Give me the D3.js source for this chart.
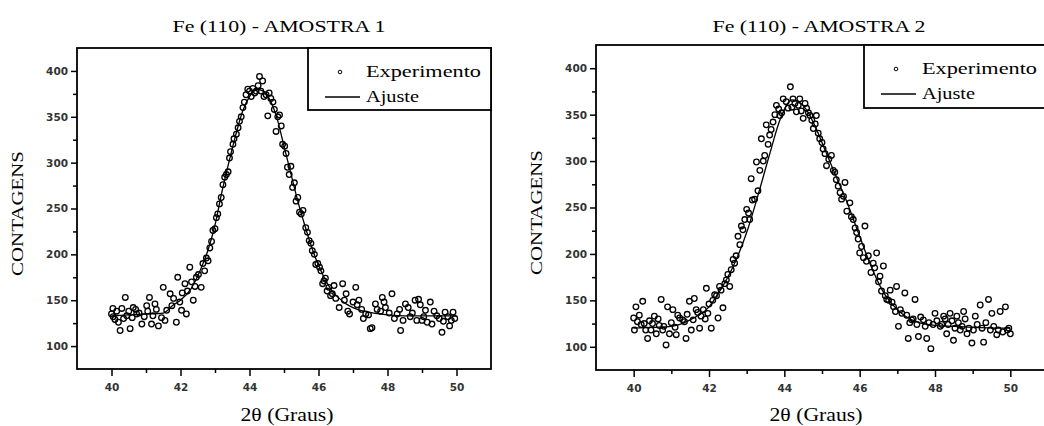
<!DOCTYPE html>
<html>
<head>
<meta charset="utf-8">
<script src="https://cdn.jsdelivr.net/npm/d3@7"></script>
<style>
  body { margin: 0; background: #fff; }
  svg { display: block; }
</style>
</head>
<body>
<div id="chart"></div>
<script>
// tick values
const xTicks = [40, 42, 44, 46, 48, 50];
const xMinor = [41, 43, 45, 47, 49];
const yTicks = [100, 150, 200, 250, 300, 350, 400];
const yMinor = [125, 175, 225, 275, 325, 375];

// amostra 1 : experimento [2theta, contagens]
const exp1 = [
  [40,135],[40.04,141],[40.1,129],[40.25,117],[40.4,153],[40.54,119],[40.44,133],[40.63,142],[40.73,135],
  [40.88,124],[41.02,144],[41.1,153],[41.16,124],[41.26,146],[41.36,122],[41.5,164],[41.55,128],[41.7,157],
  [41.88,126],[41.92,175],[42.03,139],[42.13,168],[42.17,135],[42.27,186],[42.37,150],[42.46,175],[42.6,164],
  [42.7,182],[42.8,193],[42.85,207],[42.94,226],[43.04,240],[43.13,255],[43.23,276],[43.33,287],[43.42,305],
  [43.52,320],[43.62,331],[43.71,345],[43.81,360],[43.9,374],[44.0,378],[44.1,381],[44.19,378],[44.29,394],
  [44.38,389],[44.48,374],[44.53,351],[44.62,370],[44.77,334],[44.87,352],[44.96,320],[45.1,295],[45.15,287],
  [45.25,273],[45.35,258],[45.5,244],[45.63,229],[45.73,215],[45.88,200],[45.92,189],[46.07,182],[46.16,171],
  [46.3,164],[46.4,157],[46.6,142],[46.8,157],[46.9,135],[47.08,164],[47.17,150],[47.37,135],[47.5,119],
  [47.65,146],[47.85,153],[47.94,142],[48.13,157],[48.28,135],[48.38,117],[48.52,146],[48.66,132],[48.8,150],
  [48.9,151],[49.0,128],[49.1,139],[49.24,148],[49.29,124],[49.43,133],[49.58,115],[49.67,137],[49.8,122],
  [49.9,137],
  [40.05,132],[40.15,138],[40.2,126],[40.3,141],[40.35,130],[40.5,138],[40.6,131],[40.7,140],[40.8,136],
  [40.95,132],[41.05,138],[41.2,133],[41.3,140],[41.45,131],[41.6,139],[41.75,144],[41.8,152],[41.98,148],
  [42.05,158],[42.2,160],[42.32,170],[42.42,165],[42.52,178],[42.65,190],[42.75,196],[42.9,214],[43.0,228],
  [43.08,244],[43.18,262],[43.28,284],[43.38,290],[43.45,312],[43.55,326],[43.67,338],[43.76,350],[43.85,366],
  [43.95,380],[44.05,372],[44.15,376],[44.25,384],[44.33,378],[44.42,372],[44.57,376],[44.68,366],[44.72,358],
  [44.82,350],[44.92,340],[45.02,318],[45.06,310],[45.2,296],[45.3,278],[45.4,262],[45.45,246],[45.55,248],
  [45.68,224],[45.78,212],[45.82,204],[45.98,190],[46.03,186],[46.12,168],[46.2,174],[46.25,160],[46.35,155],
  [46.45,166],[46.5,152],[46.7,168],[46.75,150],[46.85,138],[47.0,148],[47.12,145],[47.25,140],[47.3,130],
  [47.45,134],[47.55,120],[47.7,140],[47.8,138],[47.9,148],[48.05,136],[48.2,130],[48.35,140],[48.45,128],
  [48.6,142],[48.72,136],[48.85,128],[48.95,145],[49.05,132],[49.15,126],[49.35,138],[49.5,130],[49.62,127],
  [49.75,132],[49.85,128],[49.95,130]
];

// amostra 1 : ajuste
const fit1 = [
  [40,133],[40.5,134],[41,135],[41.5,136],[41.8,145],[42,150],[42.3,162],[42.6,185],[42.8,205],[43,232],
  [43.2,268],[43.4,300],[43.6,330],[43.8,356],[44,372],[44.2,380],[44.4,378],[44.6,368],[44.8,348],[45,318],
  [45.2,288],[45.4,258],[45.6,232],[45.8,208],[46,188],[46.2,172],[46.4,160],[46.6,152],[46.8,146],[47,142],
  [47.3,138],[47.6,136],[48,134],[48.5,133],[49,133],[49.5,133],[50,133]
];

// amostra 2 : experimento
const exp2 = [
  [40,131],[40.02,118],[40.06,143],[40.15,134],[40.24,149],[40.28,125],[40.37,109],[40.46,118],[40.55,133],
  [40.6,114],[40.68,123],[40.73,151],[40.77,118],[40.86,102],[40.9,143],[40.95,114],[41.04,140],[41.13,113],
  [41.17,134],[41.3,129],[41.39,109],[41.48,149],[41.53,118],[41.61,152],[41.66,140],[41.75,120],[41.79,133],
  [41.93,163],[41.97,136],[42.06,120],[42.15,156],[42.24,131],[42.32,161],[42.37,142],[42.46,172],[42.55,165],
  [42.59,183],[42.64,194],[42.72,198],[42.77,219],[42.86,230],[42.95,237],[43.0,248],[43.08,237],[43.12,281],
  [43.21,259],[43.26,299],[43.3,268],[43.39,324],[43.48,306],[43.52,339],[43.61,328],[43.7,342],[43.79,360],
  [43.88,349],[43.97,367],[44.1,357],[44.16,380],[44.23,367],[44.32,353],[44.41,367],[44.5,346],[44.59,357],
  [44.68,349],[44.77,335],[44.85,349],[44.94,324],[45.03,313],[45.12,295],[45.25,306],[45.34,288],[45.43,273],
  [45.52,259],[45.61,277],[45.74,255],[45.83,237],[45.92,223],[46.0,201],[46.14,230],[46.23,198],[46.36,190],
  [46.45,201],[46.54,176],[46.63,187],[46.72,151],[46.81,161],[46.9,143],[46.98,165],[47.03,122],[47.12,136],
  [47.2,158],[47.29,109],[47.38,129],[47.47,151],[47.56,111],[47.69,129],[47.78,109],[47.89,98],[48.0,136],
  [48.14,122],[48.23,133],[48.31,114],[48.4,136],[48.49,107],[48.58,133],[48.67,118],[48.76,138],[48.85,114],
  [48.98,104],[49.07,133],[49.2,145],[49.29,105],[49.42,151],[49.51,136],[49.64,113],[49.73,138],[49.87,143],
  [49.96,120],[50,114],
  [40.1,127],[40.2,124],[40.32,118],[40.42,128],[40.5,125],[40.65,130],[40.8,122],[41.0,126],[41.1,121],
  [41.22,131],[41.35,127],[41.42,135],[41.58,129],[41.7,137],[41.85,140],[41.9,130],[42.0,146],[42.1,150],
  [42.2,155],[42.28,165],[42.42,168],[42.5,178],[42.68,190],[42.82,210],[42.9,226],[43.05,244],[43.15,258],
  [43.35,290],[43.44,300],[43.57,318],[43.65,334],[43.75,350],[43.85,356],[43.93,352],[44.05,364],[44.2,358],
  [44.28,362],[44.37,360],[44.45,354],[44.55,362],[44.64,352],[44.73,344],[44.82,340],[44.9,330],[45.0,320],
  [45.08,308],[45.18,302],[45.3,290],[45.38,280],[45.48,266],[45.57,262],[45.66,246],[45.78,240],[45.88,228],
  [45.96,216],[46.05,208],[46.1,196],[46.18,192],[46.3,180],[46.4,185],[46.5,170],[46.58,160],[46.68,155],
  [46.77,150],[46.86,148],[46.95,138],[47.08,140],[47.25,134],[47.33,126],[47.42,130],[47.52,124],[47.62,132],
  [47.74,122],[47.84,126],[47.95,124],[48.05,128],[48.18,124],[48.27,130],[48.35,124],[48.45,128],[48.53,120],
  [48.62,126],[48.72,122],[48.8,130],[48.9,120],[49.02,118],[49.12,124],[49.25,120],[49.35,126],[49.47,118],
  [49.56,122],[49.68,118],[49.8,116],[49.92,118]
];

// amostra 2 : ajuste
const fit2 = [
  [40,120],[40.5,121],[41,122],[41.5,129],[42,143],[42.3,161],[42.6,183],[43,223],[43.3,263],[43.6,306],
  [43.9,346],[44.2,366],[44.5,360],[44.8,339],[45.1,310],[45.4,281],[45.7,252],[46,219],[46.3,187],[46.6,161],
  [47,140],[47.5,127],[48,123],[48.5,122],[49,121],[50,120]
];

const svg = d3.select("#chart").append("svg")
  .attr("width", 1044)
  .attr("height", 426);

function drawPanel(cfg) {
  const x = d3.scaleLinear().domain([39, 51]).range([cfg.left, cfg.right]);
  const y = d3.scaleLinear().domain([75, 425]).range([cfg.bottom, cfg.top]);
  const g = svg.append("g");

  // title
  g.append("text")
    .attr("x", cfg.titleX).attr("y", 32)
    .attr("text-anchor", "middle")
    .attr("textLength", 213).attr("lengthAdjust", "spacingAndGlyphs")
    .style("font-family", "'Liberation Serif', serif").style("font-size", "17px")
    .text(cfg.title);

  // axes
  const xAx = g.append("g").attr("transform", `translate(0,${cfg.bottom})`)
    .call(d3.axisBottom(x).tickValues(xTicks).tickSize(7).tickFormat(d3.format("d")));
  g.append("g").attr("transform", `translate(0,${cfg.bottom})`)
    .call(d3.axisBottom(x).tickValues(xMinor).tickSize(4).tickFormat(""));
  g.append("g").attr("transform", `translate(${cfg.left},0)`)
    .call(d3.axisLeft(y).tickValues(yTicks).tickSize(6).tickFormat(d3.format("d")));
  g.append("g").attr("transform", `translate(${cfg.left},0)`)
    .call(d3.axisLeft(y).tickValues(yMinor).tickSize(4).tickFormat(""));
  g.selectAll(".domain").remove();
  g.selectAll(".tick line").attr("stroke", "#000").attr("stroke-width", 1.5);
  g.selectAll(".tick text")
    .style("font-family", "'DejaVu Sans', sans-serif").style("font-size", "10.5px")
    .style("font-weight", "bold").attr("fill", "#333");
  xAx.selectAll(".tick text").attr("dy", "1.1em");

  // frame
  g.append("rect")
    .attr("x", cfg.left).attr("y", cfg.top)
    .attr("width", cfg.right - cfg.left).attr("height", cfg.bottom - cfg.top)
    .attr("fill", "none").attr("stroke", "#000").attr("stroke-width", 1.8);

  // fit line
  g.append("path")
    .datum(cfg.fit)
    .attr("fill", "none").attr("stroke", "#000").attr("stroke-width", 1.3)
    .attr("d", d3.line().x(d => x(d[0])).y(d => y(d[1])).curve(d3.curveMonotoneX));

  // experiment points
  g.selectAll("circle.pt")
    .data(cfg.exp)
    .join("circle")
    .attr("class", "pt")
    .attr("cx", d => x(d[0])).attr("cy", d => y(d[1]))
    .attr("r", 2.8)
    .attr("fill", "none").attr("stroke", "#000").attr("stroke-width", 1.3);

  // legend
  const lg = g.append("g");
  lg.append("rect")
    .attr("x", cfg.legX).attr("y", cfg.top)
    .attr("width", cfg.right - cfg.legX).attr("height", cfg.legH)
    .attr("fill", "#fff").attr("stroke", "#000").attr("stroke-width", 1.8);
  lg.append("circle")
    .attr("cx", cfg.legX + 32).attr("cy", cfg.top + 24).attr("r", 1.8)
    .attr("fill", "none").attr("stroke", "#000").attr("stroke-width", 1);
  lg.append("line")
    .attr("x1", cfg.legX + 17).attr("x2", cfg.legX + 52)
    .attr("y1", cfg.top + 49).attr("y2", cfg.top + 49)
    .attr("stroke", "#000").attr("stroke-width", 1.3);
  lg.append("text")
    .attr("x", cfg.legX + 58).attr("y", cfg.top + 29)
    .attr("textLength", 115).attr("lengthAdjust", "spacingAndGlyphs")
    .style("font-family", "'Liberation Serif', serif").style("font-size", "17px")
    .text("Experimento");
  lg.append("text")
    .attr("x", cfg.legX + 58).attr("y", cfg.top + 54)
    .attr("textLength", 53).attr("lengthAdjust", "spacingAndGlyphs")
    .style("font-family", "'Liberation Serif', serif").style("font-size", "17px")
    .text("Ajuste");

  // axis titles
  g.append("text")
    .attr("transform", `translate(${cfg.left - 54},${(cfg.top + cfg.bottom) / 2 + 5}) rotate(-90)`)
    .attr("text-anchor", "middle")
    .attr("textLength", 125).attr("lengthAdjust", "spacingAndGlyphs")
    .style("font-family", "'Liberation Serif', serif").style("font-size", "16px")
    .text("CONTAGENS");
  g.append("text")
    .attr("x", cfg.xLabelX).attr("y", 421)
    .attr("text-anchor", "middle")
    .attr("textLength", 93).attr("lengthAdjust", "spacingAndGlyphs")
    .style("font-family", "'Liberation Serif', serif").style("font-size", "18px")
    .text("2θ  (Graus)");
}

drawPanel({
  title: "Fe (110) - AMOSTRA 1", titleX: 279,
  left: 77, right: 491, top: 48, bottom: 369,
  legX: 308, legH: 62, xLabelX: 287,
  exp: exp1, fit: fit1
});

drawPanel({
  title: "Fe (110) - AMOSTRA 2", titleX: 819,
  left: 596, right: 1048, top: 45, bottom: 370,
  legX: 864, legH: 63, xLabelX: 816,
  exp: exp2, fit: fit2
});
</script>
</body>
</html>
